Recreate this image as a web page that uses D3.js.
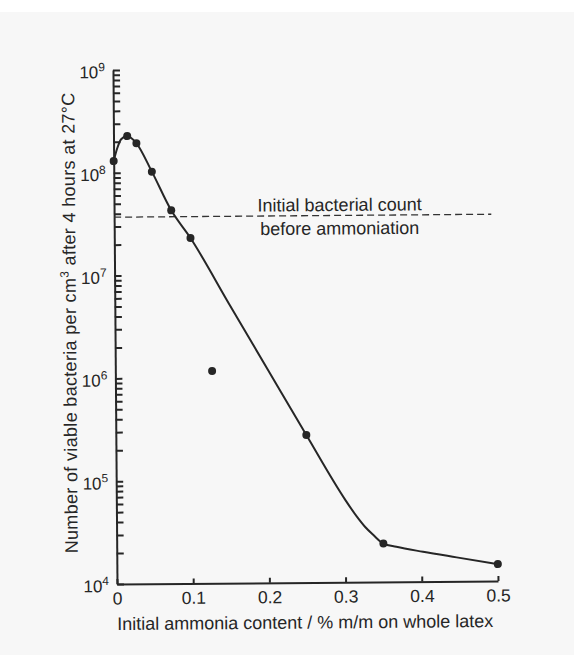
<!DOCTYPE html>
<html>
<head>
<meta charset="utf-8">
<script src="https://cdn.jsdelivr.net/npm/d3@7"></script>
<style>
    body { margin: 0; background: #ffffff; }
    text { font-family: 'Liberation Sans', Arial, sans-serif; fill: #262626; }
    .axis path, .axis line { stroke: #262626; stroke-width: 2; }
    .curve { fill: none; stroke: #262626; stroke-width: 2; }
    .dot { fill: #262626; }
    .refLine { stroke: #333333; stroke-width: 1.3; stroke-dasharray: 7 4; }
</style>
</head>
<body>
<div id="chart"></div>
<script>
'use strict';

// Measured points (x: % m/m ammonia, y: viable bacteria per cm3)
const ammonia = [0, 0.018, 0.03, 0.05, 0.075, 0.1, 0.127, 0.25, 0.35, 0.5];
const bacteria = [1.3e8, 2.27e8, 1.93e8, 1.02e8, 4.27e7, 2.29e7, 1.16e6, 2.72e5, 2.36e4, 1.46e4];

// Hand-drawn fitted curve
const curveAmmonia = [0, 0.005, 0.01, 0.018, 0.03, 0.05, 0.075, 0.1, 0.15, 0.2, 0.25, 0.3, 0.3155, 0.326, 0.337, 0.35, 0.367, 0.402, 0.446, 0.5];
const curveBacteria = [1.3e8, 1.75e8, 2.12e8, 2.27e8, 1.93e8, 1.02e8, 4.27e7, 2.29e7, 5.2e6, 1.19e6, 2.72e5, 6.4e4, 4.33e4, 3.45e4, 2.86e4, 2.36e4, 2.19e4, 1.95e4, 1.71e4, 1.46e4];

// Reference level
const initialCount = 3.7e7;
const refLineEnd = 0.495;
const refLabels = ['Initial bacterial count', 'before ammoniation'];

// Ticks
const xTicks = [0, 0.1, 0.2, 0.3, 0.4, 0.5];
const yDecades = [4, 5, 6, 7, 8, 9];

/* ````````````````````````````````\
    Class: AmmoniaChart             |
 `````````````````````````````````*/
class AmmoniaChart {

    constructor(_parent) {
        this.parent = _parent;
        this.initVis();
    }

    initVis() {
        const vis = this;

        vis.w = 574;
        vis.h = 655;

        vis.svg = d3.select(`#${vis.parent}`)
            .append('svg')
            .attr('width', vis.w)
            .attr('height', vis.h);

        // Scanned paper background
        vis.svg.append('rect')
            .attr('x', 0)
            .attr('y', 12)
            .attr('width', vis.w)
            .attr('height', vis.h - 12)
            .attr('fill', '#f7f7f7');

        // Origin of the axes, the scan is tilted a little
        vis.origin = {x: 117, y: 584};
        vis.gW = 381;
        vis.gH = 514;

        vis.g = vis.svg.append('g')
            .attr('transform', `translate(${vis.origin.x},${vis.origin.y}) rotate(-0.45)`);

        // Scales
        vis.x = d3.scaleLinear()
            .domain([0, 0.5])
            .range([0, vis.gW]);
        vis.y = d3.scaleLog()
            .domain([1e4, 1e9])
            .range([0, -vis.gH]);

        vis.wrangleData();
    }

    wrangleData() {
        const vis = this;

        vis.points = ammonia.map((a, i) => ({x: a, y: bacteria[i]}));
        vis.curvePoints = curveAmmonia.map((a, i) => ({x: a, y: curveBacteria[i]}));

        // Decade + minor ticks
        vis.yTicks = [];
        yDecades.forEach(d => {
            const base = Math.pow(10, d);
            vis.yTicks.push(base);
            if (d < 9) {
                for (let m = 2; m <= 9; m++) vis.yTicks.push(m * base);
            }
        });

        vis.updateVis();
    }

    updateVis() {
        const vis = this;

        // X axis
        const xAxis = vis.g.append('g')
            .attr('class', 'axis')
            .call(d3.axisBottom(vis.x)
                .tickValues(xTicks)
                .tickSize(-5)
                .tickSizeOuter(0)
                .tickPadding(8)
                .tickFormat(d => d === 0 ? '0' : d3.format('.1f')(d)));
        xAxis.selectAll('text')
            .style('font-size', '17.5px')
            .attr('fill', '#262626');

        // Y axis
        const yAxis = vis.g.append('g')
            .attr('class', 'axis')
            .call(d3.axisLeft(vis.y)
                .tickValues(vis.yTicks)
                .tickSize(-7)
                .tickSizeOuter(0)
                .tickFormat(''));
        yAxis.selectAll('.tick text').remove();

        // Decade labels 10^n
        const yLab = vis.g.append('g')
            .selectAll('text')
            .data(yDecades)
            .join('text')
            .attr('x', -8)
            .attr('y', d => vis.y(Math.pow(10, d)) + 8)
            .attr('text-anchor', 'end')
            .style('font-size', '17px');
        yLab.append('tspan').text('10');
        yLab.append('tspan')
            .attr('dy', -7)
            .style('font-size', '12px')
            .text(d => d);

        // Reference dashed line
        vis.g.append('line')
            .attr('class', 'refLine')
            .attr('x1', vis.x(0))
            .attr('x2', vis.x(refLineEnd))
            .attr('y1', vis.y(initialCount))
            .attr('y2', vis.y(initialCount));
        vis.g.selectAll('.refLabel')
            .data(refLabels)
            .join('text')
            .attr('class', 'refLabel')
            .attr('x', vis.x(0.296))
            .attr('y', (d, i) => vis.y(initialCount) + (i === 0 ? -4.5 : 19))
            .attr('text-anchor', 'middle')
            .style('font-size', '18px')
            .text(d => d);

        // Fitted curve
        const line = d3.line()
            .x(d => vis.x(d.x))
            .y(d => vis.y(d.y))
            .curve(d3.curveMonotoneX);
        vis.g.append('path')
            .datum(vis.curvePoints)
            .attr('class', 'curve')
            .attr('d', line);

        // Measured points
        vis.g.selectAll('.dot')
            .data(vis.points)
            .join('circle')
            .attr('class', 'dot')
            .attr('cx', d => vis.x(d.x))
            .attr('cy', d => vis.y(d.y))
            .attr('r', 4);

        // X axis title
        vis.g.append('text')
            .attr('x', 188)
            .attr('y', 46)
            .attr('text-anchor', 'middle')
            .attr('textLength', 376)
            .attr('lengthAdjust', 'spacing')
            .style('font-size', '18px')
            .text('Initial ammonia content  /  % m/m on whole latex');

        // Y axis title, spread to the scanned length
        const yTitle = vis.g.append('text')
            .attr('transform', `translate(-39,-261.5) rotate(-90)`)
            .attr('text-anchor', 'middle')
            .style('font-size', '18px');
        yTitle.append('tspan').text('Number of viable bacteria per cm');
        yTitle.append('tspan').attr('dy', -7).style('font-size', '12px').text('3');
        yTitle.append('tspan').attr('dy', 7).text(' after 4 hours at 27°C');
        const nChars = yTitle.text().length;
        const spacing = (461 - yTitle.node().getComputedTextLength()) / nChars;
        yTitle.style('letter-spacing', `${spacing}px`);
    }
}

new AmmoniaChart('chart');
</script>
</body>
</html>
